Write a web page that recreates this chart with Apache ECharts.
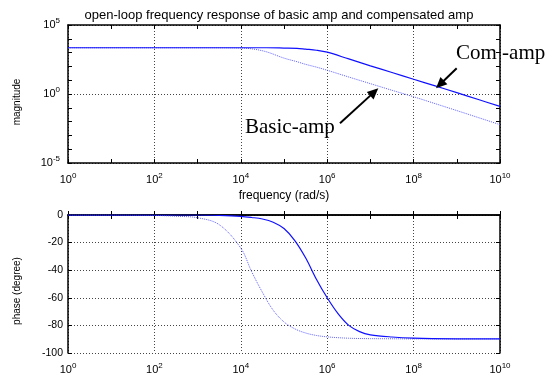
<!DOCTYPE html>
<html>
<head>
<meta charset="utf-8">
<script src="https://cdn.jsdelivr.net/npm/echarts@6/dist/echarts.min.js"></script>
<style>html,body{margin:0;padding:0;background:#fff}#c{width:558px;height:379px}</style>
</head>
<body>
<div id="c"></div>
<script>
// ---- data ----
var titleText = 'open-loop frequency response of basic amp and compensated amp';
var xLabel = 'frequency (rad/s)';
var magLabel = 'magnitude';
var phaseLabel = 'phase (degree)';

var magFreq = [1, 1e3, 1e4, 2e4, 4e4, 1e5, 2e5, 3.16e5, 5.62e5, 1e6, 3.16e6, 1e7, 3.16e7, 1e8, 3.16e8, 1e9, 3.16e9, 1e10];
var magBasic = [2240, 2240, 2140, 1780, 1120, 398, 219, 141, 89, 52.5, 17.0, 5.62, 1.86, 0.631, 0.2, 0.063, 0.0195, 0.006];
var magComp = [2240, 2240, 2240, 2240, 2240, 2140, 2040, 1780, 1480, 1070, 347, 110, 36.3, 11.7, 3.89, 1.26, 0.398, 0.126];

var phFreq = [1, 10, 100, 316, 1000, 3160, 1e4, 1.78e4, 3.16e4, 5.62e4, 1e5, 1.78e5, 3.16e5, 5.62e5, 1e6, 1.78e6, 3.16e6, 5.62e6, 1e7, 3.16e7, 1e8, 1e9, 1e10];
var phBasic = [0, 0, -0.3, -0.9, -2, -7, -24, -41, -56, -69, -77.5, -82.5, -85.5, -87.3, -88.3, -88.9, -89.3, -89.5, -89.6, -89.7, -89.8, -89.8, -89.8];
var phComp = [0, 0, 0, 0, 0, -0.3, -1, -1.8, -2.9, -5.2, -9.8, -18.5, -31, -46.5, -60, -71.5, -80, -84.5, -86.8, -88.4, -89.2, -89.7, -89.8];

var xTickExp = 2;   // labelled decades step
var magTickExp = 5;
var phaseTicks = 20;

function pairs(xs, ys) { return xs.map(function (x, i) { return [x, ys[i]]; }); }

var chart = echarts.init(document.getElementById('c'), null, {renderer: 'canvas'});
var FONT = 'Liberation Sans, Arial, sans-serif';
var SERIF = 'Liberation Serif, Times New Roman, serif';
var grids = [
  {left: 68, top: 25, width: 432, height: 138},
  {left: 68, top: 215, width: 432, height: 138}
];
var powRich = {
  b: {fontSize: 11, fontFamily: FONT, color: '#000'},
  s: {fontSize: 8, fontFamily: FONT, color: '#000', verticalAlign: 'bottom', padding: [0, 0, 8, 0]}
};
function powFmt(v) {
  var e = Math.round(Math.log10(v));
  return '{b|10}{s|' + e + '}';
}
var lineStyle = {color: '#000', width: 1.5};
var gridLine = {show: true, lineStyle: {color: '#444', width: 1, type: [1, 2]}};
var tickIn = {show: true, inside: true, length: 4, lineStyle: {color: '#000', width: 1}};

function xAxesFor(g) {
  return [
    {type: 'log', logBase: 10, gridIndex: g, position: 'bottom', min: 1, max: 1e10, interval: xTickExp,
      axisLine: {show: true, lineStyle: lineStyle}, axisTick: {show: false},
      axisLabel: {formatter: powFmt, rich: powRich, margin: 9}, splitLine: gridLine},
    {type: 'log', logBase: 10, gridIndex: g, position: 'bottom', min: 1, max: 1e10, interval: 1,
      axisLine: {show: false}, axisTick: tickIn, axisLabel: {show: false}, splitLine: {show: false}},
    {type: 'log', logBase: 10, gridIndex: g, position: 'top', min: 1, max: 1e10, interval: 1,
      axisLine: {show: true, lineStyle: lineStyle}, axisTick: tickIn, axisLabel: {show: false}, splitLine: {show: false}}
  ];
}

var lineOpts = {symbol: 'none', smooth: 0.35, z: 3};
var compStyle = {color: '#1010ff', width: 1.2};
var basicStyle = {color: '#6060ff', width: 1, type: [1, 1]};

var option = {
  animation: false,
  backgroundColor: '#fff',
  title: {text: titleText, left: 'center', top: 4,
    textStyle: {fontSize: 13, fontWeight: 'normal', fontFamily: FONT, color: '#000'}},
  grid: grids,
  xAxis: xAxesFor(0).concat(xAxesFor(1)),
  yAxis: [
    {type: 'log', logBase: 10, gridIndex: 0, position: 'left', min: 1e-5, max: 1e5, interval: magTickExp,
      axisLine: {show: true, lineStyle: lineStyle}, axisTick: {show: false},
      axisLabel: {formatter: powFmt, rich: powRich, margin: 8}, splitLine: gridLine},
    {type: 'log', logBase: 10, gridIndex: 0, position: 'left', min: 1e-5, max: 1e5, interval: 1,
      axisLine: {show: false}, axisTick: tickIn, axisLabel: {show: false}, splitLine: {show: false}},
    {type: 'log', logBase: 10, gridIndex: 0, position: 'right', min: 1e-5, max: 1e5, interval: 1,
      axisLine: {show: true, lineStyle: lineStyle}, axisTick: tickIn, axisLabel: {show: false}, splitLine: {show: false}},
    {type: 'value', gridIndex: 1, position: 'left', min: -100, max: 0, interval: phaseTicks,
      axisLine: {show: true, lineStyle: lineStyle}, axisTick: tickIn,
      axisLabel: {fontSize: 10.5, fontFamily: FONT, color: '#000', margin: 5}, splitLine: gridLine},
    {type: 'value', gridIndex: 1, position: 'right', min: -100, max: 0, interval: phaseTicks,
      axisLine: {show: true, lineStyle: lineStyle}, axisTick: tickIn, axisLabel: {show: false}, splitLine: {show: false}}
  ],
  series: [
    Object.assign({type: 'line', name: 'basic', xAxisIndex: 0, yAxisIndex: 0, data: pairs(magFreq, magBasic), lineStyle: basicStyle}, lineOpts),
    Object.assign({type: 'line', name: 'comp', xAxisIndex: 0, yAxisIndex: 0, data: pairs(magFreq, magComp), lineStyle: compStyle}, lineOpts),
    Object.assign({type: 'line', name: 'basicPh', xAxisIndex: 3, yAxisIndex: 3, data: pairs(phFreq, phBasic), lineStyle: basicStyle}, lineOpts),
    Object.assign({type: 'line', name: 'compPh', xAxisIndex: 3, yAxisIndex: 3, data: pairs(phFreq, phComp), lineStyle: compStyle}, lineOpts)
  ],
  graphic: []
};

function arrow(x1, y1, x2, y2) {
  var dx = x2 - x1, dy = y2 - y1, L = Math.sqrt(dx * dx + dy * dy);
  var ux = dx / L, uy = dy / L, hl = 11, hw = 5;
  var bx = x2 - ux * hl, by = y2 - uy * hl;
  return [
    {type: 'line', shape: {x1: x1, y1: y1, x2: bx + ux * 2, y2: by + uy * 2}, style: {stroke: '#000', lineWidth: 2}, z: 10},
    {type: 'polygon', shape: {points: [[x2, y2], [bx - uy * hw, by + ux * hw], [bx + uy * hw, by - ux * hw]]},
      style: {fill: '#000'}, z: 10}
  ];
}

option.graphic = [
  {type: 'text', left: 456, top: 43, z: -1, style: {text: 'Com -amp', font: '21px ' + SERIF, fill: '#000'}},
  {type: 'text', left: 245, top: 117, z: 10, style: {text: 'Basic-amp', font: '21px ' + SERIF, fill: '#000'}},
  {type: 'text', x: 17, y: 102, rotation: Math.PI / 2, z: 10,
    style: {text: magLabel, font: '10px ' + FONT, fill: '#000', align: 'center', verticalAlign: 'middle'}},
  {type: 'text', x: 17, y: 291, rotation: Math.PI / 2, z: 10,
    style: {text: phaseLabel, font: '10px ' + FONT, fill: '#000', align: 'center', verticalAlign: 'middle'}},
  {type: 'text', x: 284, y: 196, z: 10,
    style: {text: xLabel, font: '12px ' + FONT, fill: '#000', align: 'center', verticalAlign: 'middle'}}
].concat(arrow(456.7, 68.3, 436, 88.3)).concat(arrow(340, 123.3, 378.3, 88.3));

chart.setOption(option);
</script>
</body>
</html>
